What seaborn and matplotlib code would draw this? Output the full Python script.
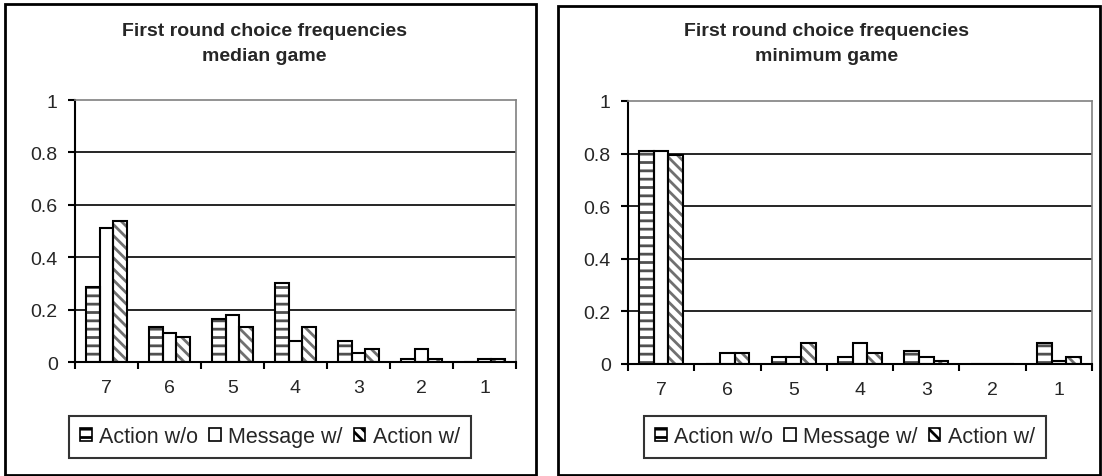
import matplotlib
matplotlib.use("Agg")
import matplotlib.pyplot as plt
from matplotlib.patches import Rectangle, Patch
import seaborn as sns
import pandas as pd
import numpy as np

# ---- data ----
choices = ["7", "6", "5", "4", "3", "2", "1"]
series_names = ["Action w/o", "Message w/", "Action w/"]

median_action_wo = [0.285, 0.135, 0.165, 0.30, 0.08, 0.012, 0.0]
median_message_w = [0.51, 0.11, 0.18, 0.08, 0.035, 0.05, 0.012]
median_action_w = [0.54, 0.095, 0.135, 0.135, 0.05, 0.012, 0.012]

minimum_action_wo = [0.81, 0.0, 0.028, 0.028, 0.05, 0.0, 0.08]
minimum_message_w = [0.81, 0.042, 0.028, 0.08, 0.028, 0.0, 0.012]
minimum_action_w = [0.795, 0.042, 0.08, 0.042, 0.012, 0.0, 0.028]

titles = ["First round choice frequencies\nmedian game",
          "First round choice frequencies\nminimum game"]
yticks = [0, 0.2, 0.4, 0.6, 0.8, 1]
ytick_labels = ["0", "0.2", "0.4", "0.6", "0.8", "1"]


def long_df(a, b, c):
    rows = []
    for name, vals in zip(series_names, [a, b, c]):
        for ch, v in zip(choices, vals):
            rows.append({"choice": ch, "series": name, "freq": v})
    return pd.DataFrame(rows)


dfs = [long_df(median_action_wo, median_message_w, median_action_w),
       long_df(minimum_action_wo, minimum_message_w, minimum_action_w)]

sns.set_theme(style="white")
plt.rcParams["font.family"] = ["Liberation Sans", "DejaVu Sans"]
plt.rcParams["hatch.linewidth"] = 2.0

fig = plt.figure(figsize=(11.02, 4.77), dpi=100)
W, H = 1102.0, 477.0

def fx(px):
    return px / W

def fy(py):
    return 1 - py / H

# panel frames
for (x0, y0, x1, y1) in [(5, 5, 536, 476), (558, 7, 1100, 476)]:
    fig.patches.append(Rectangle((fx(x0), fy(y1)), fx(x1) - fx(x0), fy(y0) - fy(y1),
                                 transform=fig.transFigure, fill=False,
                                 edgecolor="black", linewidth=2, zorder=0))

axes_px = [(75, 101, 516, 363), (628, 102, 1092, 365)]
title_cx = [264, 827]
legend_cx = [270, 845]

FS_TICK = 14
FS_TITLE = 14
FS_LEG = 15.5

hatches = {"Action w/o": "--", "Message w/": "", "Action w/": "\\\\\\"}
hatch_col = {"Action w/o": "#505050", "Message w/": "white", "Action w/": "#707070"}
order_palette = {n: "white" for n in series_names}

for i, df in enumerate(dfs):
    x0, y0, x1, y1 = axes_px[i]
    ax = fig.add_axes([fx(x0), fy(y1), fx(x1) - fx(x0), fy(y0) - fy(y1)])
    # hatched fill layer
    sns.barplot(data=df, x="choice", y="freq", hue="series", order=choices,
                hue_order=series_names, palette=order_palette, width=0.66, gap=0,
                ax=ax, legend=False, errorbar=None, saturation=1, linewidth=0)
    n_groups = len(choices)
    for j, patch in enumerate(ax.patches):
        s = series_names[j // n_groups]
        patch.set_hatch(hatches[s])
        patch.set_edgecolor(hatch_col[s])
        patch.set_linewidth(0)
        patch.set_zorder(2)
    # outline layer
    sns.barplot(data=df, x="choice", y="freq", hue="series", order=choices,
                hue_order=series_names, width=0.66, gap=0, ax=ax, legend=False,
                errorbar=None, fill=False, palette={n: "black" for n in series_names},
                linewidth=1.5)
    for patch in ax.patches[len(choices) * 3:]:
        patch.set_zorder(3)

    ax.set_ylim(0, 1)
    ax.set_xlim(-0.5, 6.5)
    ax.set_yticks(yticks)
    ax.set_yticklabels(ytick_labels)
    for yv in yticks[1:-1]:
        ax.axhline(yv, color="black", linewidth=1.2, zorder=1)
    ax.set_xticks(range(len(choices)))
    ax.set_xticklabels(choices)
    ax.set_xticks(np.arange(-0.5, 7.0, 1.0), minor=True)
    ax.tick_params(axis="x", which="major", length=0, pad=12, labelsize=FS_TICK)
    ax.tick_params(axis="x", which="minor", length=5, width=1.5, color="black",
                   direction="out", bottom=True)
    ax.tick_params(axis="y", length=5, width=1.5, color="black", direction="out",
                   left=True, labelsize=FS_TICK, pad=7.5)
    ax.set_xlabel("")
    ax.set_ylabel("")
    for side in ["left", "bottom"]:
        ax.spines[side].set_color("black")
        ax.spines[side].set_linewidth(1.5)
    for side in ["top", "right"]:
        ax.spines[side].set_visible(True)
        ax.spines[side].set_color("#808080")
        ax.spines[side].set_linewidth(1.2)
    ax.set_facecolor("white")

    fig.text(fx(title_cx[i]), fy(44), titles[i], ha="center", va="center",
             fontsize=FS_TITLE, fontweight="bold", linespacing=1.55)

    handles = [Patch(facecolor="white", edgecolor="black", hatch=hatches[s], linewidth=1.2)
               for s in series_names]
    leg = fig.legend(handles, series_names, loc="center",
                     bbox_to_anchor=(fx(legend_cx[i]), fy(438)), ncol=3,
                     fontsize=FS_LEG, frameon=True, fancybox=False,
                     handlelength=0.55, handleheight=0.55, handletextpad=0.35,
                     columnspacing=0.5, borderpad=0.5, borderaxespad=0)
    leg.get_frame().set_linewidth(1.5)
    leg.get_frame().set_edgecolor("black")

fig.savefig("out.png", dpi=100, facecolor="white")
